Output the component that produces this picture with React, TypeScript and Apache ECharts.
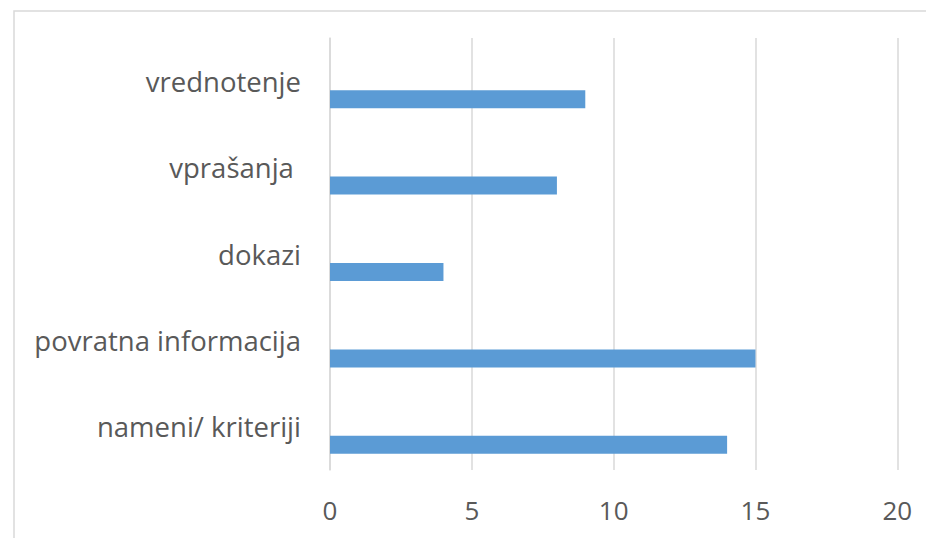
import React, { useEffect, useRef } from "react";
import * as echarts from "echarts";

const categories = ["nameni/ kriteriji", "povratna informacija", "dokazi", "vprašanja ", "vrednotenje"];
const values = [14, 15, 4, 8, 9];
const emptyValues = [null, null, null, null, null];
const xTicks = { min: 0, max: 20, interval: 5 };

export default function App() {
  const ref = useRef<HTMLDivElement>(null);
  useEffect(() => {
    if (!ref.current) return;
    const chart = echarts.init(ref.current, null, { renderer: "svg" });
    const font = "'Open Sans', sans-serif";
    chart.setOption({
      animation: false,
      backgroundColor: "#ffffff",
      grid: { left: 330, right: 28.7, top: 38, bottom: 68, containLabel: false },
      xAxis: {
        type: "value",
        min: xTicks.min,
        max: xTicks.max,
        interval: xTicks.interval,
        axisLine: { show: false },
        axisTick: { show: false },
        splitLine: { show: true, lineStyle: { color: "#d9d9d9", width: 1.5 } },
        axisLabel: { color: "#595959", fontSize: 26, fontFamily: font, margin: 27 },
      },
      yAxis: {
        type: "category",
        data: categories,
        axisLine: { show: true, lineStyle: { color: "#d9d9d9", width: 1.5 } },
        axisTick: { show: false },
        axisLabel: { color: "#595959", fontSize: 27.5, fontFamily: font, margin: 29 },
      },
      graphic: [
        {
          type: "rect",
          shape: { x: 14, y: 11, width: 1200, height: 1200 },
          style: { fill: "none", stroke: "#d9d9d9", lineWidth: 1.5 },
          silent: true,
        },
      ],
      series: [
        {
          type: "bar",
          data: emptyValues,
          barWidth: 18,
          barGap: "100%",
          itemStyle: { color: "#ed7d31" },
        },
        {
          type: "bar",
          data: values,
          barWidth: 18,
          barGap: "100%",
          itemStyle: { color: "#5b9bd5" },
        },
      ],
    });
    return () => chart.dispose();
  }, []);
  return (
    <div
      ref={ref}
      style={{ position: "fixed", left: 0, top: 0, width: 926, height: 538 }}
    />
  );
}
